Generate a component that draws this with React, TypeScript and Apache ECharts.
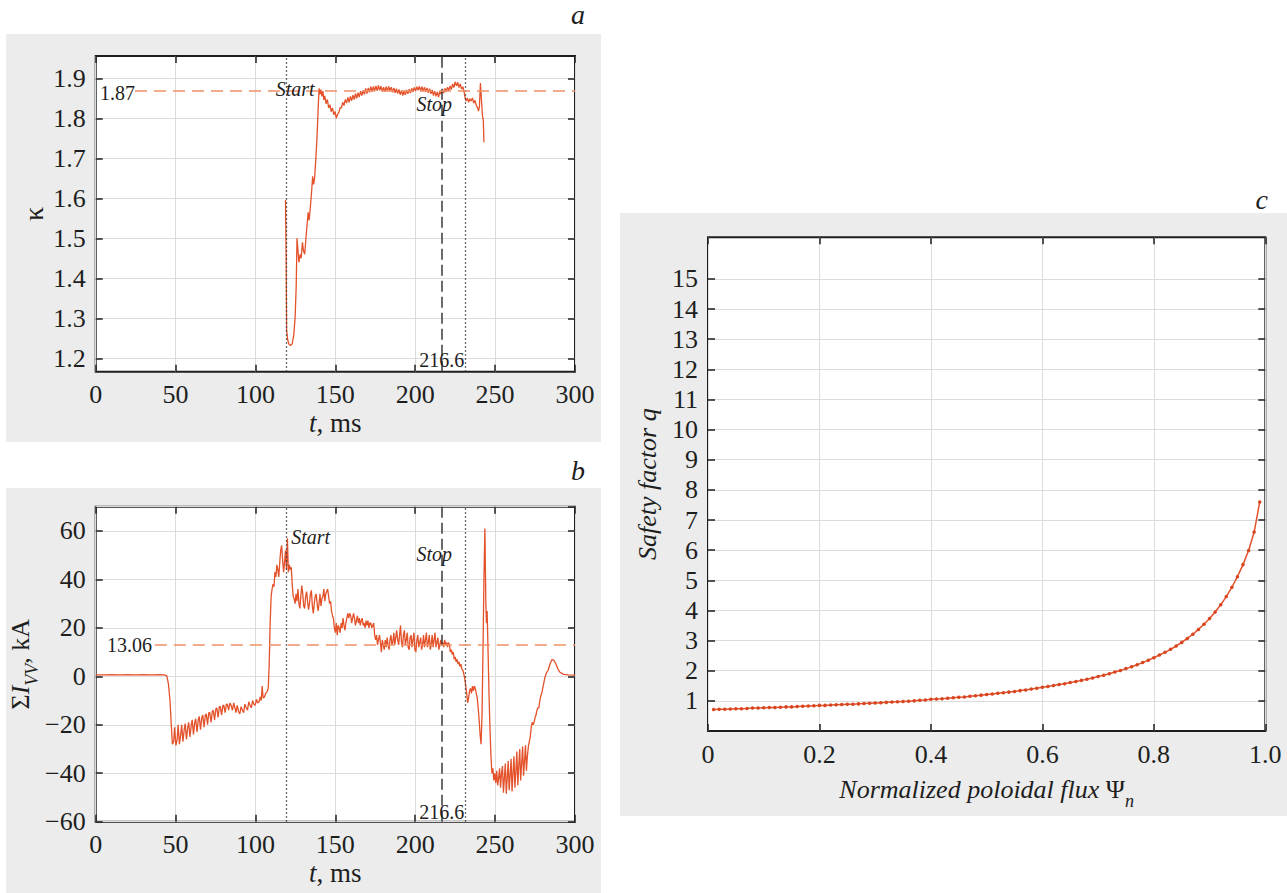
import React, { useEffect, useRef } from "react";
import * as echarts from "echarts";

// ---------------- data ----------------
const kappaT = [118.8,119.2,119.5,120.2,121.0,122.0,123.0,124.0,124.8,125.5,126.0,126.6,127.2,128.0,128.6,129.4,130.0,130.8,131.6,132.2,133.0,133.6,134.4,135.2,135.8,136.4,137.0,137.8,138.6,139.2,139.8,140.4,141.0,141.6,142.2,142.8,143.4,144.2,145.0,145.8,146.6,147.4,148.2,149.0,149.8,150.6,151.4,152.2,153.0,153.8,154.6,155.4,156.2,157.0,157.8,158.6,159.4,160.2,161.0,161.8,162.6,163.4,164.2,165.0,165.8,166.6,167.4,168.2,169.0,169.8,170.6,171.4,172.2,173.0,173.8,174.6,175.4,176.2,177.0,177.8,178.6,179.4,180.2,181.0,181.8,182.6,183.4,184.2,185.0,185.8,186.6,187.4,188.2,189.0,189.8,190.6,191.4,192.2,193.0,193.8,194.6,195.4,196.2,197.0,197.8,198.6,199.4,200.2,201.0,201.8,202.6,203.4,204.2,205.0,205.8,206.6,207.4,208.2,209.0,209.8,210.6,211.4,212.2,213.0,213.8,214.6,215.4,216.2,217.0,217.8,218.6,219.4,220.2,221.0,221.8,222.6,223.4,224.2,225.0,225.8,226.6,227.4,228.2,229.0,229.8,230.6,231.2,231.8,232.6,233.4,234.2,235.0,235.8,236.6,237.4,238.2,239.0,239.6,240.2,240.8,241.4,242.0,242.6,243.0];
const kappaV = [1.596,1.45,1.27,1.245,1.235,1.232,1.236,1.26,1.30,1.38,1.50,1.47,1.44,1.46,1.45,1.49,1.47,1.46,1.50,1.53,1.565,1.545,1.58,1.62,1.655,1.635,1.65,1.70,1.76,1.82,1.875,1.86,1.872,1.855,1.868,1.846,1.856,1.836,1.847,1.826,1.834,1.817,1.826,1.809,1.817,1.8,1.81,1.815,1.827,1.826,1.84,1.832,1.847,1.838,1.852,1.84,1.855,1.844,1.858,1.847,1.862,1.85,1.864,1.853,1.868,1.857,1.87,1.86,1.875,1.862,1.876,1.865,1.879,1.867,1.88,1.868,1.881,1.869,1.882,1.87,1.88,1.867,1.878,1.866,1.879,1.868,1.88,1.869,1.878,1.865,1.876,1.864,1.874,1.862,1.872,1.859,1.87,1.857,1.868,1.859,1.871,1.861,1.873,1.863,1.875,1.866,1.877,1.868,1.879,1.87,1.88,1.869,1.879,1.868,1.878,1.866,1.876,1.864,1.874,1.861,1.871,1.857,1.868,1.855,1.866,1.853,1.867,1.86,1.872,1.863,1.875,1.866,1.878,1.869,1.881,1.872,1.886,1.877,1.891,1.881,1.89,1.877,1.886,1.873,1.879,1.866,1.852,1.843,1.851,1.84,1.849,1.843,1.851,1.838,1.845,1.833,1.826,1.818,1.83,1.888,1.85,1.81,1.795,1.74];

const ivvT = [0,5,10,15,20,25,30,35,40,43,44.5,45.5,46.5,47.3,48,48.8,49.4,50.2,51,51.6,52.4,53.2,53.8,54.6,55.4,56,56.8,57.6,58.2,59,59.8,60.4,61.2,62,62.6,63.4,64.2,64.8,65.6,66.4,67,67.8,68.6,69.2,70,70.8,71.4,72.2,73,73.6,74.4,75.2,75.8,76.6,77.4,78,78.8,79.6,80.2,81,81.8,82.4,83.2,84,84.8,85.6,86.4,87,87.8,88.6,89.4,90.2,91,91.8,92.6,93.4,94.2,95,95.8,96.6,97.4,98.2,99,99.8,100.6,101.4,102.2,103,103.6,104.2,104.8,105.6,106.4,107.2,108,108.6,109.2,109.8,110.4,111,111.6,112.2,112.8,113.4,114,114.6,115.2,115.8,116.4,117,117.6,118.2,118.8,119.4,120,120.6,121.2,121.8,122.4,123,123.6,124.2,124.8,125.4,126,126.6,127.2,127.8,128.4,129,129.6,130.2,130.8,131.4,132,132.6,133.2,133.8,134.4,135,135.6,136.2,136.8,137.4,138,138.6,139.2,139.8,140.4,141,141.6,142.2,142.8,143.4,144,144.6,145.2,145.8,146.4,147,147.6,148.2,148.8,149.4,150,150.6,151.2,151.8,152.4,153,153.6,154.2,154.8,155.4,156,156.6,157.2,157.8,158.4,159,159.6,160.2,160.8,161.4,162,162.6,163.2,163.8,164.4,165,165.6,166.2,166.8,167.4,168,168.6,169.2,169.8,170.4,171,171.6,172.2,172.8,173.4,174,174.6,175.2,175.8,176.4,177,177.6,178.2,178.8,179.4,180,180.6,181.2,181.8,182.4,183,183.6,184.2,184.8,185.4,186,186.6,187.2,187.8,188.4,189,189.6,190.2,190.8,191.4,192,192.6,193.2,193.8,194.4,195,195.6,196.2,196.8,197.4,198,198.6,199.2,199.8,200.4,201,201.6,202.2,202.8,203.4,204,204.6,205.2,205.8,206.4,207,207.6,208.2,208.8,209.4,210,210.6,211.2,211.8,212.4,213,213.6,214.2,214.8,215.4,216,216.6,217.2,217.8,218.4,219,219.6,220.2,220.8,221.4,222,222.6,223.2,223.8,224.4,225,225.6,226.2,226.8,227.4,228,228.6,229.2,229.8,230.4,231,231.6,232.2,232.8,233.4,234,234.6,235.2,235.8,236.4,237,237.6,238.2,238.8,239.4,240,240.6,241.2,241.8,242.4,243,243.6,244.2,244.6,245,245.6,246.2,246.8,247.4,248,248.6,249.2,249.8,250.4,251,251.6,252.2,252.8,253.4,254,254.6,255.2,255.8,256.4,257,257.6,258.2,258.8,259.4,260,260.6,261.2,261.8,262.4,263,263.6,264.2,264.8,265.4,266,266.6,267.2,267.8,268.4,269,269.6,270.2,270.8,271.4,272,272.6,273.2,273.8,274.4,275,275.6,276.2,276.8,277.4,278,278.6,279.2,279.8,280.4,281,281.6,282.2,283.2,284.4,285.6,286.8,288,289.2,290.4,292.8,296,300];
const ivvV = [0.6,0.6,0.7,0.6,0.7,0.6,0.7,0.6,0.7,0.6,0.2,-3,-10,-20,-28,-27,-21,-28.5,-26,-20,-28,-24,-20,-27,-22,-19.5,-26,-21,-19,-25,-20,-18,-24,-19,-17.5,-23,-18,-16.5,-22,-17,-16,-21,-16,-15.5,-20,-15,-15,-19,-14.5,-14,-18,-13.5,-13,-17,-12.5,-12.5,-16,-12,-12,-15,-11.5,-11.5,-14,-11,-12,-14,-11,-12.5,-15,-12,-14.5,-15.5,-12.5,-14,-15,-11.5,-13,-14,-10.5,-12,-13,-10,-11.5,-12,-9.5,-11,-10.5,-8.5,-10,-4,-9,-8.5,-7,-6.5,-5,5,22,33,36,38,37,43,41,46,44,41,47,52,54,48,43,47,52,44,57,43,46,44,45,38,33,32,30,34,31,36,30,28,33,37.5,34,29,28,33,35,31,27.5,30,34,35.5,29,26,30,33,34,30,27,30,34,29,32,33,36,31,34,35,36,33,30,31,27,25,24,20,18,22,17,21,20,18,22,20,24,21,19,22,24,26,24,26,25,22,24,26,24,21,23,25,22,24,21,23,24,21,22,20,23,21,23,20,22,22,20,21,22,17,15,17,13,15,17,14,10,15,13,11,15,12,16,13,11,15,17,13,14,18,13,16,19,15,13,17,21,14,12,17,19,13,15,18,12,11,16,17,12,15,18,11,10,15,17,12,14,16,11,13,17,12,15,18,12,14,17,11,13,17,12,15,18,12,14,16,11,13,15,13,14,12,15,13,14,12,14,13,10,11,9,10,7,8,6,7,5,6,4,5,3,2.5,1,-1,-4,-7,-11,-9,-6,-5,-7,-4,-6,-4,-5,-7,-9,-13,-18,-24,-28,-16,10,40,61,30,22,27,10,-8,-22,-33,-40,-38,-43,-40,-44,-39,-45,-42,-38,-46,-40,-37,-48,-42,-36,-48.5,-42,-35,-47,-41,-34,-47.5,-40,-33,-46,-39,-31,-45,-37,-30,-43,-36,-29,-41,-35,-28.5,-39,-33,-29,-27,-25,-21,-19,-20,-19,-17,-16,-14,-13,-13,-10,-8,-7,-5,-3,-1,0.5,1.5,2.5,5.2,6.9,6.6,5.2,3.2,1.8,0.8,0.6,0.5];

const psiV = [0.01,0.02,0.03,0.04,0.05,0.06,0.07,0.08,0.09,0.10,0.11,0.12,0.13,0.14,0.15,0.16,0.17,0.18,0.19,0.20,0.21,0.22,0.23,0.24,0.25,0.26,0.27,0.28,0.29,0.30,0.31,0.32,0.33,0.34,0.35,0.36,0.37,0.38,0.39,0.40,0.41,0.42,0.43,0.44,0.45,0.46,0.47,0.48,0.49,0.50,0.51,0.52,0.53,0.54,0.55,0.56,0.57,0.58,0.59,0.60,0.61,0.62,0.63,0.64,0.65,0.66,0.67,0.68,0.69,0.70,0.71,0.72,0.73,0.74,0.75,0.76,0.77,0.78,0.79,0.80,0.81,0.82,0.83,0.84,0.85,0.86,0.87,0.88,0.89,0.90,0.91,0.92,0.93,0.94,0.95,0.96,0.97,0.98,0.99];
const qV = [0.71,0.72,0.72,0.73,0.74,0.74,0.75,0.76,0.76,0.77,0.78,0.78,0.79,0.80,0.80,0.81,0.82,0.83,0.84,0.85,0.85,0.86,0.87,0.88,0.89,0.89,0.90,0.91,0.92,0.93,0.94,0.95,0.96,0.97,0.98,0.99,1.00,1.02,1.03,1.05,1.06,1.07,1.09,1.10,1.12,1.13,1.15,1.17,1.19,1.21,1.23,1.25,1.27,1.29,1.31,1.34,1.36,1.39,1.42,1.45,1.48,1.51,1.54,1.57,1.61,1.64,1.68,1.72,1.76,1.81,1.85,1.90,1.96,2.01,2.07,2.13,2.20,2.27,2.35,2.43,2.52,2.61,2.71,2.82,2.94,3.07,3.21,3.37,3.54,3.73,3.95,4.19,4.46,4.77,5.12,5.52,5.99,6.60,7.60];

const kappaTicks = [1.2, 1.3, 1.4, 1.5, 1.6, 1.7, 1.8, 1.9];
const qTicks = [1, 2, 3, 4, 5, 6, 7, 8, 9, 10, 11, 12, 13, 14, 15];
const kappaRef = 1.87;
const ivvRef = 13.06;
const tStart = 119.5;
const tStop = 216.6;
const tEnd = 231;

// ---------------- styles ----------------
const FONT = "Liberation Serif";
const INK = "#1e1e1e";
const CURVE = "#e4522b";
const REF = "#ef9066";
const MARK = "#3a3a3a";
const SPLIT = "#dcdcdc";
const PANEL = "#ebeceb";
const TICK_FS = 26;
const NAME_FS = 27;

const tickStyle = { inside: true, length: 7, lineStyle: { color: INK, width: 1.5 } };
const labelStyle = { color: INK, fontFamily: FONT, fontSize: TICK_FS, margin: 10 };
const noLine = { show: false, onZero: false };

function mainX(gridIndex: number, min: number, max: number, interval: number, name: string, rich: any, nameGap: number, fmt?: (v: number) => string) {
  const axisLabel: any = { ...labelStyle };
  if (fmt) axisLabel.formatter = fmt;
  return {
    type: "value", gridIndex, min, max, interval, position: "bottom",
    axisLine: noLine, axisTick: tickStyle, axisLabel,
    splitLine: { show: true, lineStyle: { color: SPLIT, width: 1 } },
    name, nameLocation: "middle", nameGap,
    nameTextStyle: { fontFamily: FONT, fontSize: NAME_FS, color: INK, rich },
  };
}
function mirrorX(gridIndex: number, min: number, max: number, interval: number) {
  return {
    type: "value", gridIndex, min, max, interval, position: "top",
    axisLine: noLine, axisTick: tickStyle, axisLabel: { show: false }, splitLine: { show: false },
  };
}
function mainY(gridIndex: number, min: number, max: number, extra: any, name: string, nameStyle: any, nameGap: number) {
  return {
    type: "value", gridIndex, min, max, position: "left",
    axisLine: noLine,
    splitLine: { show: true, lineStyle: { color: SPLIT, width: 1 } },
    name, nameLocation: "middle", nameGap, nameTextStyle: nameStyle,
    ...extra,
  };
}
function mirrorY(gridIndex: number, min: number, max: number, extra: any) {
  return {
    type: "value", gridIndex, min, max, position: "right",
    axisLine: noLine, axisLabel: { show: false }, splitLine: { show: false },
    ...extra,
  };
}

const gridBase = { show: true, backgroundColor: "#ffffff", borderColor: INK, borderWidth: 2, containLabel: false, outerBoundsMode: "none" };
const annot = { color: INK, fontFamily: FONT, fontSize: 20 };
const dotted = { type: [1.5, 2.5], color: MARK, width: 1.3 };
const dashed = { type: [11, 5], color: MARK, width: 1.5 };
const refDash = { type: [12, 7], color: REF, width: 1.6 };

const minus = (v: number) => (v < 0 ? "\u2212" + Math.abs(v) : String(v));

export default function App() {
  const ref = useRef<HTMLDivElement>(null);
  useEffect(() => {
    if (!ref.current) return;
    const chart = echarts.init(ref.current, undefined, { renderer: "svg" });
    const tRich = {
      i: { fontFamily: FONT, fontSize: NAME_FS, fontStyle: "italic", color: INK },
      n: { fontFamily: FONT, fontSize: NAME_FS, color: INK },
    };
    const psiRich = {
      i: { fontFamily: FONT, fontSize: 26, fontStyle: "italic", color: INK, lineHeight: 26, verticalAlign: "top" },
      p: { fontFamily: FONT, fontSize: 26, color: INK, lineHeight: 26, verticalAlign: "top" },
      s: { fontFamily: FONT, fontSize: 18, fontStyle: "italic", color: INK, lineHeight: 34, verticalAlign: "bottom" },
    };
    const ivvRich = {
      n: { fontFamily: FONT, fontSize: 26, color: INK, lineHeight: 26, verticalAlign: "top" },
      i: { fontFamily: FONT, fontSize: 26, fontStyle: "italic", color: INK, lineHeight: 26, verticalAlign: "top" },
      s: { fontFamily: FONT, fontSize: 18, fontStyle: "italic", color: INK, lineHeight: 34, verticalAlign: "bottom" },
    };
    const kTickCfg = { axisTick: { ...tickStyle, customValues: kappaTicks }, axisLabel: { ...labelStyle, customValues: kappaTicks, formatter: (v: number) => v.toFixed(1) } };
    const qTickCfg = { axisTick: { ...tickStyle, customValues: qTicks }, axisLabel: { ...labelStyle, customValues: qTicks, formatter: (v: number) => String(v) } };
    const ivvTickCfg = { interval: 20, axisTick: tickStyle, axisLabel: { ...labelStyle, formatter: minus } };

    chart.setOption({
      animation: false,
      textStyle: { fontFamily: FONT },
      grid: [
        { ...gridBase, left: 95.7, top: 56, width: 479.3, height: 315.7 },
        { ...gridBase, left: 95.7, top: 506.7, width: 479.3, height: 315 },
        { ...gridBase, left: 708, top: 237.3, width: 557.3, height: 493.7 },
      ],
      xAxis: [
        mainX(0, 0, 300, 50, "{i|t}{n|, ms}", tRich, 38),
        mirrorX(0, 0, 300, 50),
        mainX(1, 0, 300, 50, "{i|t}{n|, ms}", tRich, 38),
        mirrorX(1, 0, 300, 50),
        mainX(2, 0, 1, 0.2, "{i|Normalized poloidal flux }{p|\u03A8}{s|n}", psiRich, 45, (v: number) => (v === 0 ? "0" : v.toFixed(1))),
        mirrorX(2, 0, 1, 0.2),
      ],
      yAxis: [
        mainY(0, 1.1665, 1.9558, kTickCfg, "\u03BA", { fontFamily: FONT, fontSize: 28, color: INK }, 48),
        mirrorY(0, 1.1665, 1.9558, { axisTick: { ...tickStyle, customValues: kappaTicks } }),
        mainY(1, -60, 70, ivvTickCfg, "{n|\u03A3}{i|I}{s|VV}{n|, kA}", { fontFamily: FONT, fontSize: 26, color: INK, rich: ivvRich }, 36),
        mirrorY(1, -60, 70, { interval: 20, axisTick: tickStyle }),
        mainY(2, 0, 16.38, qTickCfg, "Safety factor q", { fontFamily: FONT, fontSize: 26, fontStyle: "italic", color: INK }, 48),
        mirrorY(2, 0, 16.38, { axisTick: { ...tickStyle, customValues: qTicks } }),
      ],
      graphic: [
        { type: "text", x: 585, y: 14, style: { text: "a", font: `italic 28px ${FONT}`, fill: INK, align: "right", verticalAlign: "middle" } },
        { type: "text", x: 585, y: 470, style: { text: "b", font: `italic 28px ${FONT}`, fill: INK, align: "right", verticalAlign: "middle" } },
        { type: "text", x: 1268, y: 199, style: { text: "c", font: `italic 28px ${FONT}`, fill: INK, align: "right", verticalAlign: "middle" } },
      ],
      series: [
        {
          type: "line", xAxisIndex: 0, yAxisIndex: 0, showSymbol: false, clip: true,
          data: kappaT.map((t, i) => [t, kappaV[i]]),
          lineStyle: { color: CURVE, width: 1.3 },
          markLine: {
            silent: true, symbol: ["none", "none"], label: { show: false },
            data: [
              { xAxis: tStart, lineStyle: dotted },
              { xAxis: tStop, lineStyle: dashed },
              { xAxis: tEnd, lineStyle: dotted },
              [{ coord: [24.6, kappaRef], lineStyle: refDash }, { coord: [300, kappaRef] }],
            ],
          },
          markPoint: {
            silent: true, symbol: "circle", symbolSize: 0, itemStyle: { color: "rgba(0,0,0,0)" },
            data: [
              { coord: [2.7, 1.863], label: { ...annot, formatter: String(kappaRef), position: "right", distance: 0 } },
              { coord: [112.7, 1.873], label: { ...annot, fontStyle: "italic", formatter: "Start", position: "right", distance: 0 } },
              { coord: [200.8, 1.836], label: { ...annot, fontStyle: "italic", formatter: "Stop", position: "right", distance: 0 } },
              { coord: [tStop, 1.196], label: { ...annot, formatter: String(tStop), position: "inside" } },
            ],
          },
        },
        {
          type: "line", xAxisIndex: 2, yAxisIndex: 2, showSymbol: false, clip: true,
          data: ivvT.map((t, i) => [t, ivvV[i]]),
          lineStyle: { color: CURVE, width: 1.3 },
          markLine: {
            silent: true, symbol: ["none", "none"], label: { show: false },
            data: [
              { xAxis: tStart, lineStyle: dotted },
              { xAxis: tStop, lineStyle: dashed },
              { xAxis: tEnd, lineStyle: dotted },
              [{ coord: [37, ivvRef], lineStyle: refDash }, { coord: [300, ivvRef] }],
            ],
          },
          markPoint: {
            silent: true, symbol: "circle", symbolSize: 0, itemStyle: { color: "rgba(0,0,0,0)" },
            data: [
              { coord: [7, 12.8], label: { ...annot, formatter: String(ivvRef), position: "right", distance: 0 } },
              { coord: [122.4, 57.3], label: { ...annot, fontStyle: "italic", formatter: "Start", position: "right", distance: 0 } },
              { coord: [200.8, 50.5], label: { ...annot, fontStyle: "italic", formatter: "Stop", position: "right", distance: 0 } },
              { coord: [tStop, -56.1], label: { ...annot, formatter: String(tStop), position: "inside" } },
            ],
          },
        },
        {
          type: "line", xAxisIndex: 4, yAxisIndex: 4, showSymbol: true, symbol: "circle", symbolSize: 3.5,
          data: psiV.map((p, i) => [p, qV[i]]),
          lineStyle: { color: CURVE, width: 1.5 },
          itemStyle: { color: "#d6451f" },
        },
      ],
    });
    return () => chart.dispose();
  }, []);

  return (
    <div style={{ position: "absolute", left: 0, top: 0, width: 1287, height: 893, background: "#ffffff" }}>
      <div style={{ position: "absolute", left: 6, top: 34, width: 595, height: 408, background: PANEL }} />
      <div style={{ position: "absolute", left: 6, top: 488, width: 595, height: 405, background: PANEL }} />
      <div style={{ position: "absolute", left: 620, top: 213, width: 667, height: 603, background: PANEL }} />
      <div ref={ref} style={{ position: "absolute", left: 0, top: 0, width: 1287, height: 893 }} />
    </div>
  );
}
